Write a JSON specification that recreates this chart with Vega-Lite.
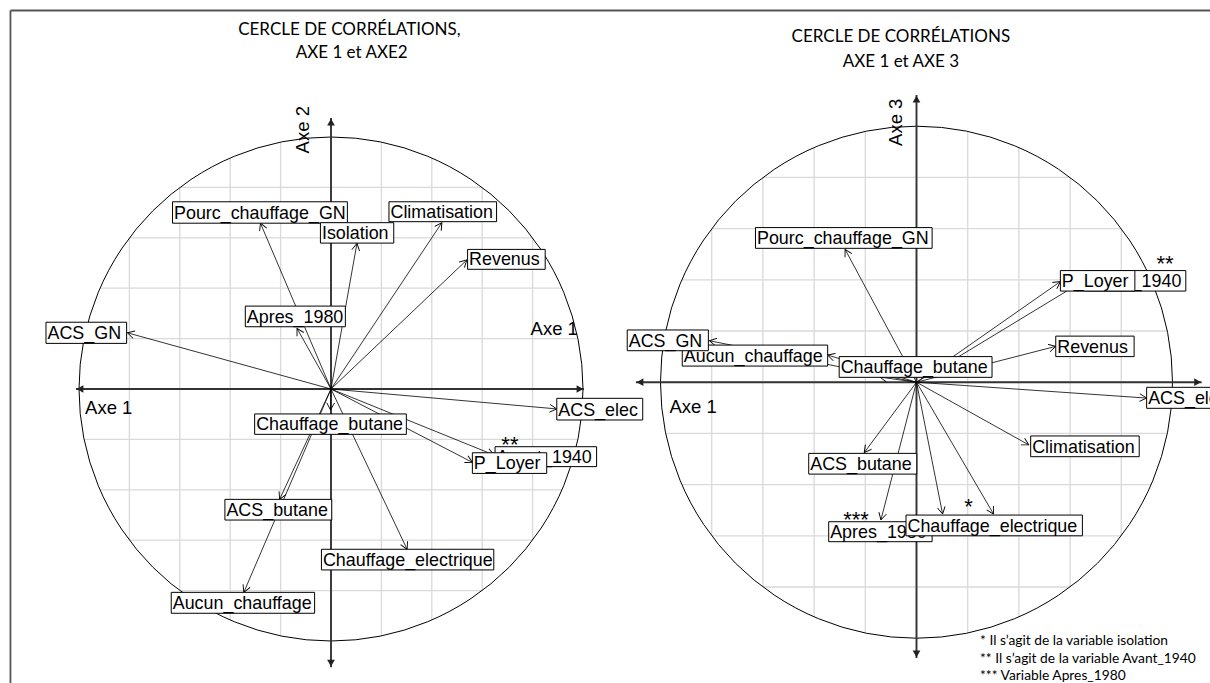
{
  "$schema": "https://vega.github.io/schema/vega-lite/v6.json",
  "padding": 0,
  "background": "white",
  "bounds": "flush",
  "spacing": 0,
  "config": {"view": {"stroke": null}},
  "datasets": {
    "grid": [
      {"g": -0.8, "lo": -0.6, "hi": 0.6},
      {"g": -0.6, "lo": -0.8, "hi": 0.8},
      {"g": -0.4, "lo": -0.9165, "hi": 0.9165},
      {"g": -0.2, "lo": -0.9798, "hi": 0.9798},
      {"g": 0, "lo": -1, "hi": 1},
      {"g": 0.2, "lo": -0.9798, "hi": 0.9798},
      {"g": 0.4, "lo": -0.9165, "hi": 0.9165},
      {"g": 0.6, "lo": -0.8, "hi": 0.8},
      {"g": 0.8, "lo": -0.6, "hi": 0.6}
    ],
    "p1lab": [
      {"var": "Pourc_chauffage_GN", "ax": -0.280, "ay": 0.658, "x1": -0.629, "x2": 0.065, "y1": 0.658, "y2": 0.743},
      {"var": "Climatisation", "ax": 0.440, "ay": 0.660, "x1": 0.230, "x2": 0.657, "y1": 0.664, "y2": 0.743},
      {"var": "Isolation", "ax": 0.103, "ay": 0.578, "x1": -0.042, "x2": 0.249, "y1": 0.579, "y2": 0.660},
      {"var": "Revenus", "ax": 0.539, "ay": 0.512, "x1": 0.542, "x2": 0.850, "y1": 0.475, "y2": 0.554},
      {"var": "Apres_1980", "ax": -0.135, "ay": 0.241, "x1": -0.340, "x2": 0.057, "y1": 0.247, "y2": 0.329},
      {"var": "ACS_GN", "ax": -0.808, "ay": 0.223, "x1": -1.131, "x2": -0.811, "y1": 0.181, "y2": 0.265},
      {"var": "ACS_elec", "ax": 0.896, "ay": -0.079, "x1": 0.896, "x2": 1.237, "y1": -0.123, "y2": -0.037},
      {"var": "Avant_1940", "ax": 0.647, "ay": -0.262, "x1": 0.651, "x2": 1.054, "y1": -0.308, "y2": -0.229},
      {"var": "Chauffage_butane", "ax": -0.002, "ay": -0.083, "x1": -0.303, "x2": 0.299, "y1": -0.180, "y2": -0.099},
      {"var": "P_Loyer", "ax": 0.561, "ay": -0.291, "x1": 0.561, "x2": 0.856, "y1": -0.335, "y2": -0.253},
      {"var": "ACS_butane", "ax": -0.204, "ay": -0.438, "x1": -0.421, "x2": 0.003, "y1": -0.520, "y2": -0.438},
      {"var": "Aucun_chauffage", "ax": -0.346, "ay": -0.807, "x1": -0.634, "x2": -0.065, "y1": -0.890, "y2": -0.807},
      {"var": "Chauffage_electrique", "ax": 0.302, "ay": -0.636, "x1": -0.038, "x2": 0.646, "y1": -0.718, "y2": -0.636}
    ],
    "p2lab": [
      {"var": "Pourc_chauffage_GN", "ax": -0.279, "ay": 0.519, "x1": -0.629, "x2": 0.061, "y1": 0.523, "y2": 0.604},
      {"var": "Avant_1940", "ax": 0.658, "ay": 0.399, "x1": 0.657, "x2": 1.052, "y1": 0.356, "y2": 0.436},
      {"var": "P_Loyer", "ax": 0.562, "ay": 0.393, "x1": 0.562, "x2": 0.853, "y1": 0.356, "y2": 0.436},
      {"var": "Revenus", "ax": 0.544, "ay": 0.140, "x1": 0.544, "x2": 0.850, "y1": 0.100, "y2": 0.180},
      {"var": "Aucun_chauffage", "ax": -0.347, "ay": 0.106, "x1": -0.915, "x2": -0.347, "y1": 0.063, "y2": 0.145},
      {"var": "ACS_GN", "ax": -0.809, "ay": 0.162, "x1": -1.130, "x2": -0.813, "y1": 0.123, "y2": 0.204},
      {"var": "Chauffage_butane", "ax": -0.143, "ay": 0.020, "x1": -0.302, "x2": 0.295, "y1": 0.019, "y2": 0.100},
      {"var": "ACS_elec", "ax": 0.899, "ay": -0.062, "x1": 0.899, "x2": 1.235, "y1": -0.102, "y2": -0.020},
      {"var": "Climatisation", "ax": 0.439, "ay": -0.245, "x1": 0.446, "x2": 0.870, "y1": -0.291, "y2": -0.210},
      {"var": "ACS_butane", "ax": -0.204, "ay": -0.275, "x1": -0.421, "x2": 0.001, "y1": -0.359, "y2": -0.278},
      {"var": "Apres_1980", "ax": -0.139, "ay": -0.538, "x1": -0.343, "x2": 0.061, "y1": -0.623, "y2": -0.545},
      {"var": "Isolation", "ax": 0.301, "ay": -0.515, "x1": null, "x2": null, "y1": null, "y2": null},
      {"var": "Chauffage_electrique", "ax": 0.102, "ay": -0.515, "x1": -0.041, "x2": 0.648, "y1": -0.600, "y2": -0.519}
    ],
    "p1axes": [
      {"x1": -1.012, "y1": 0, "x2": 1.004, "y2": 0},
      {"x1": 0, "y1": -1.104, "x2": 0, "y2": 1.075}
    ],
    "p1heads": [
      {"hx": -0.996, "hy": 0, "dir": "left"},
      {"hx": 0.988, "hy": 0, "dir": "right"},
      {"hx": 0, "hy": 1.059, "dir": "up"},
      {"hx": 0, "hy": -1.088, "dir": "down"}
    ],
    "p2axes": [
      {"x1": -1.096, "y1": 0, "x2": 1.114, "y2": 0},
      {"x1": 0, "y1": -1.077, "x2": 0, "y2": 1.122}
    ],
    "p2heads": [
      {"hx": -1.080, "hy": 0, "dir": "left"},
      {"hx": 1.098, "hy": 0, "dir": "right"},
      {"hx": 0, "hy": 1.106, "dir": "up"},
      {"hx": 0, "hy": -1.061, "dir": "down"}
    ],
    "p1frame": [
      {"x1": -1.272, "y1": 1.502, "x2": 1.0873, "y2": 1.502},
      {"x1": -1.272, "y1": 1.502, "x2": -1.272, "y2": -1.1667}
    ],
    "p2frame": [
      {"x1": -1.2168, "y1": 1.452, "x2": 1.1465, "y2": 1.452}
    ],
    "p1titles": [
      {"t": "CERCLE DE CORRÉLATIONS,", "x": 0.073, "y": 1.405},
      {"t": "AXE 1 et AXE2", "x": 0.082, "y": 1.312}
    ],
    "p2titles": [
      {"t": "CERCLE DE CORRÉLATIONS", "x": -0.061, "y": 1.330},
      {"t": "AXE 1 et AXE 3", "x": -0.061, "y": 1.232}
    ],
    "p1axelab": [
      {"t": "Axe 1", "x": -0.976, "y": -0.099},
      {"t": "Axe 1", "x": 0.792, "y": 0.214}
    ],
    "p1axev": [{"t": "Axe 2", "x": -0.087, "y": 0.935}],
    "p2axelab": [{"t": "Axe 1", "x": -0.965, "y": -0.121}],
    "p2axev": [{"t": "Axe 3", "x": -0.056, "y": 0.923}],
    "p1stars": [{"t": "**", "x": 0.710, "y": -0.251}],
    "p2stars": [
      {"t": "**", "x": 0.971, "y": 0.436},
      {"t": "*", "x": 0.203, "y": -0.515},
      {"t": "***", "x": -0.236, "y": -0.567}
    ],
    "notes": [
      {"t": "* Il s’agit de la variable isolation", "x": 0.248, "y": -1.027},
      {"t": "** Il s’agit de la variable Avant_1940", "x": 0.248, "y": -1.097},
      {"t": "*** Variable Apres_1980", "x": 0.248, "y": -1.165}
    ],
    "origin": [{"c": 0}]
  },
  "hconcat": [
    {
      "width": 605,
      "height": 683,
      "layer": [
        {"data": {"name": "grid"}, "mark": {"type": "rule", "color": "#d9d9d9", "strokeWidth": 1.3},
         "encoding": {
           "x": {"field": "g", "type": "quantitative", "scale": {"domain": [-1.3135, 1.0873], "nice": false, "zero": false}, "axis": null},
           "y": {"field": "lo", "type": "quantitative", "scale": {"domain": [-1.1667, 1.5437], "nice": false, "zero": false}, "axis": null},
           "y2": {"field": "hi"}}},
        {"data": {"name": "grid"}, "mark": {"type": "rule", "color": "#d9d9d9", "strokeWidth": 1.3},
         "encoding": {
           "y": {"field": "g", "type": "quantitative", "scale": {"domain": [-1.1667, 1.5437], "nice": false, "zero": false}, "axis": null},
           "x": {"field": "lo", "type": "quantitative", "scale": {"domain": [-1.3135, 1.0873], "nice": false, "zero": false}, "axis": null},
           "x2": {"field": "hi"}}},
        {"data": {"name": "origin"}, "mark": {"type": "point", "shape": "circle", "size": 254016, "filled": false, "color": "black", "strokeWidth": 1, "opacity": 1},
         "encoding": {
           "x": {"field": "c", "type": "quantitative", "scale": {"domain": [-1.3135, 1.0873], "nice": false, "zero": false}, "axis": null},
           "y": {"field": "c", "type": "quantitative", "scale": {"domain": [-1.1667, 1.5437], "nice": false, "zero": false}, "axis": null}}},
        {"data": {"name": "p1frame"}, "mark": {"type": "rule", "color": "#555555", "strokeWidth": 1.8},
         "encoding": {
           "x": {"field": "x1", "type": "quantitative", "scale": {"domain": [-1.3135, 1.0873], "nice": false, "zero": false}, "axis": null},
           "y": {"field": "y1", "type": "quantitative", "scale": {"domain": [-1.1667, 1.5437], "nice": false, "zero": false}, "axis": null},
           "x2": {"field": "x2"}, "y2": {"field": "y2"}}},
        {"data": {"name": "p1axes"}, "mark": {"type": "rule", "color": "#333333", "strokeWidth": 1.9},
         "encoding": {
           "x": {"field": "x1", "type": "quantitative", "scale": {"domain": [-1.3135, 1.0873], "nice": false, "zero": false}, "axis": null},
           "y": {"field": "y1", "type": "quantitative", "scale": {"domain": [-1.1667, 1.5437], "nice": false, "zero": false}, "axis": null},
           "x2": {"field": "x2"}, "y2": {"field": "y2"}}},
        {"data": {"name": "p1heads"}, "mark": {"type": "point", "filled": true, "color": "#222222", "size": 60, "opacity": 1},
         "encoding": {
           "x": {"field": "hx", "type": "quantitative", "scale": {"domain": [-1.3135, 1.0873], "nice": false, "zero": false}, "axis": null},
           "y": {"field": "hy", "type": "quantitative", "scale": {"domain": [-1.1667, 1.5437], "nice": false, "zero": false}, "axis": null},
           "shape": {"field": "dir", "type": "nominal", "scale": {"domain": ["left", "right", "up", "down"], "range": ["triangle-left", "triangle-right", "triangle-up", "triangle-down"]}, "legend": null}}},
        {"data": {"name": "p1lab"}, "mark": {"type": "rule", "color": "black", "strokeWidth": 0.8},
         "encoding": {
           "x": {"field": "ax", "type": "quantitative", "scale": {"domain": [-1.3135, 1.0873], "nice": false, "zero": false}, "axis": null},
           "y": {"field": "ay", "type": "quantitative", "scale": {"domain": [-1.1667, 1.5437], "nice": false, "zero": false}, "axis": null},
           "x2": {"datum": 0}, "y2": {"datum": 0}}},
        {"data": {"name": "p1lab"}, "mark": {"type": "point", "shape": "M0,0L-1,-0.55M0,0L-1,0.55", "size": 196, "filled": false, "color": "black", "strokeWidth": 0.9, "opacity": 1, "angle": {"expr": "atan2(-datum.ay, datum.ax) * 180 / PI"}},
         "encoding": {
           "x": {"field": "ax", "type": "quantitative", "scale": {"domain": [-1.3135, 1.0873], "nice": false, "zero": false}, "axis": null},
           "y": {"field": "ay", "type": "quantitative", "scale": {"domain": [-1.1667, 1.5437], "nice": false, "zero": false}, "axis": null}}},
        {"data": {"name": "p1lab"}, "transform": [{"filter": {"field": "var", "oneOf": ["Avant_1940"]}}],
         "mark": {"type": "rect", "fill": "white", "stroke": "black", "strokeWidth": 1},
         "encoding": {
           "x": {"field": "x1", "type": "quantitative", "scale": {"domain": [-1.3135, 1.0873], "nice": false, "zero": false}, "axis": null},
           "y": {"field": "y1", "type": "quantitative", "scale": {"domain": [-1.1667, 1.5437], "nice": false, "zero": false}, "axis": null},
           "x2": {"field": "x2"}, "y2": {"field": "y2"}}},
        {"data": {"name": "p1lab"}, "transform": [{"filter": {"field": "var", "oneOf": ["Avant_1940"]}}],
         "mark": {"type": "text", "align": "left", "baseline": "alphabetic", "dx": 1.5, "dy": -4, "font": "Liberation Sans", "fontSize": 17.9, "color": "black"},
         "encoding": {
           "x": {"field": "x1", "type": "quantitative", "scale": {"domain": [-1.3135, 1.0873], "nice": false, "zero": false}, "axis": null},
           "y": {"field": "y1", "type": "quantitative", "scale": {"domain": [-1.1667, 1.5437], "nice": false, "zero": false}, "axis": null},
           "text": {"field": "var"}}},
        {"data": {"name": "p1lab"}, "transform": [{"filter": {"not": {"field": "var", "oneOf": ["Avant_1940"]}}}],
         "mark": {"type": "rect", "fill": "white", "stroke": "black", "strokeWidth": 1},
         "encoding": {
           "x": {"field": "x1", "type": "quantitative", "scale": {"domain": [-1.3135, 1.0873], "nice": false, "zero": false}, "axis": null},
           "y": {"field": "y1", "type": "quantitative", "scale": {"domain": [-1.1667, 1.5437], "nice": false, "zero": false}, "axis": null},
           "x2": {"field": "x2"}, "y2": {"field": "y2"}}},
        {"data": {"name": "p1lab"}, "transform": [{"filter": {"not": {"field": "var", "oneOf": ["Avant_1940"]}}}],
         "mark": {"type": "text", "align": "left", "baseline": "alphabetic", "dx": 1.5, "dy": -4, "font": "Liberation Sans", "fontSize": 17.9, "color": "black"},
         "encoding": {
           "x": {"field": "x1", "type": "quantitative", "scale": {"domain": [-1.3135, 1.0873], "nice": false, "zero": false}, "axis": null},
           "y": {"field": "y1", "type": "quantitative", "scale": {"domain": [-1.1667, 1.5437], "nice": false, "zero": false}, "axis": null},
           "text": {"field": "var"}}},
        {"data": {"name": "p1stars"}, "mark": {"type": "text", "align": "center", "baseline": "alphabetic", "font": "Liberation Sans", "fontSize": 22, "color": "black"},
         "encoding": {
           "x": {"field": "x", "type": "quantitative", "scale": {"domain": [-1.3135, 1.0873], "nice": false, "zero": false}, "axis": null},
           "y": {"field": "y", "type": "quantitative", "scale": {"domain": [-1.1667, 1.5437], "nice": false, "zero": false}, "axis": null},
           "text": {"field": "t"}}},
        {"data": {"name": "p1axelab"}, "mark": {"type": "text", "align": "left", "baseline": "alphabetic", "font": "Liberation Sans", "fontSize": 18.5, "color": "black"},
         "encoding": {
           "x": {"field": "x", "type": "quantitative", "scale": {"domain": [-1.3135, 1.0873], "nice": false, "zero": false}, "axis": null},
           "y": {"field": "y", "type": "quantitative", "scale": {"domain": [-1.1667, 1.5437], "nice": false, "zero": false}, "axis": null},
           "text": {"field": "t"}}},
        {"data": {"name": "p1axev"}, "mark": {"type": "text", "align": "left", "baseline": "alphabetic", "angle": 270, "font": "Liberation Sans", "fontSize": 18.5, "color": "black"},
         "encoding": {
           "x": {"field": "x", "type": "quantitative", "scale": {"domain": [-1.3135, 1.0873], "nice": false, "zero": false}, "axis": null},
           "y": {"field": "y", "type": "quantitative", "scale": {"domain": [-1.1667, 1.5437], "nice": false, "zero": false}, "axis": null},
           "text": {"field": "t"}}},
        {"data": {"name": "p1titles"}, "mark": {"type": "text", "align": "center", "baseline": "alphabetic", "font": "Lato", "fontSize": 17, "color": "black"},
         "encoding": {
           "x": {"field": "x", "type": "quantitative", "scale": {"domain": [-1.3135, 1.0873], "nice": false, "zero": false}, "axis": null},
           "y": {"field": "y", "type": "quantitative", "scale": {"domain": [-1.1667, 1.5437], "nice": false, "zero": false}, "axis": null},
           "text": {"field": "t"}}}
      ]
    },
    {
      "width": 605,
      "height": 683,
      "layer": [
        {"data": {"name": "grid"}, "mark": {"type": "rule", "color": "#d9d9d9", "strokeWidth": 1.3},
         "encoding": {
           "x": {"field": "g", "type": "quantitative", "scale": {"domain": [-1.2168, 1.1465], "nice": false, "zero": false}, "axis": null},
           "y": {"field": "lo", "type": "quantitative", "scale": {"domain": [-1.175, 1.493], "nice": false, "zero": false}, "axis": null},
           "y2": {"field": "hi"}}},
        {"data": {"name": "grid"}, "mark": {"type": "rule", "color": "#d9d9d9", "strokeWidth": 1.3},
         "encoding": {
           "y": {"field": "g", "type": "quantitative", "scale": {"domain": [-1.175, 1.493], "nice": false, "zero": false}, "axis": null},
           "x": {"field": "lo", "type": "quantitative", "scale": {"domain": [-1.2168, 1.1465], "nice": false, "zero": false}, "axis": null},
           "x2": {"field": "hi"}}},
        {"data": {"name": "origin"}, "mark": {"type": "point", "shape": "circle", "size": 262144, "filled": false, "color": "black", "strokeWidth": 1, "opacity": 1},
         "encoding": {
           "x": {"field": "c", "type": "quantitative", "scale": {"domain": [-1.2168, 1.1465], "nice": false, "zero": false}, "axis": null},
           "y": {"field": "c", "type": "quantitative", "scale": {"domain": [-1.175, 1.493], "nice": false, "zero": false}, "axis": null}}},
        {"data": {"name": "p2frame"}, "mark": {"type": "rule", "color": "#555555", "strokeWidth": 1.8},
         "encoding": {
           "x": {"field": "x1", "type": "quantitative", "scale": {"domain": [-1.2168, 1.1465], "nice": false, "zero": false}, "axis": null},
           "y": {"field": "y1", "type": "quantitative", "scale": {"domain": [-1.175, 1.493], "nice": false, "zero": false}, "axis": null},
           "x2": {"field": "x2"}, "y2": {"field": "y2"}}},
        {"data": {"name": "p2axes"}, "mark": {"type": "rule", "color": "#333333", "strokeWidth": 1.9},
         "encoding": {
           "x": {"field": "x1", "type": "quantitative", "scale": {"domain": [-1.2168, 1.1465], "nice": false, "zero": false}, "axis": null},
           "y": {"field": "y1", "type": "quantitative", "scale": {"domain": [-1.175, 1.493], "nice": false, "zero": false}, "axis": null},
           "x2": {"field": "x2"}, "y2": {"field": "y2"}}},
        {"data": {"name": "p2heads"}, "mark": {"type": "point", "filled": true, "color": "#222222", "size": 60, "opacity": 1},
         "encoding": {
           "x": {"field": "hx", "type": "quantitative", "scale": {"domain": [-1.2168, 1.1465], "nice": false, "zero": false}, "axis": null},
           "y": {"field": "hy", "type": "quantitative", "scale": {"domain": [-1.175, 1.493], "nice": false, "zero": false}, "axis": null},
           "shape": {"field": "dir", "type": "nominal", "scale": {"domain": ["left", "right", "up", "down"], "range": ["triangle-left", "triangle-right", "triangle-up", "triangle-down"]}, "legend": null}}},
        {"data": {"name": "p2lab"}, "mark": {"type": "rule", "color": "black", "strokeWidth": 0.8},
         "encoding": {
           "x": {"field": "ax", "type": "quantitative", "scale": {"domain": [-1.2168, 1.1465], "nice": false, "zero": false}, "axis": null},
           "y": {"field": "ay", "type": "quantitative", "scale": {"domain": [-1.175, 1.493], "nice": false, "zero": false}, "axis": null},
           "x2": {"datum": 0}, "y2": {"datum": 0}}},
        {"data": {"name": "p2lab"}, "mark": {"type": "point", "shape": "M0,0L-1,-0.55M0,0L-1,0.55", "size": 196, "filled": false, "color": "black", "strokeWidth": 0.9, "opacity": 1, "angle": {"expr": "atan2(-datum.ay, datum.ax) * 180 / PI"}},
         "encoding": {
           "x": {"field": "ax", "type": "quantitative", "scale": {"domain": [-1.2168, 1.1465], "nice": false, "zero": false}, "axis": null},
           "y": {"field": "ay", "type": "quantitative", "scale": {"domain": [-1.175, 1.493], "nice": false, "zero": false}, "axis": null}}},
        {"data": {"name": "p2lab"}, "transform": [{"filter": {"field": "var", "oneOf": ["Avant_1940", "Aucun_chauffage", "Apres_1980"]}}],
         "mark": {"type": "rect", "fill": "white", "stroke": "black", "strokeWidth": 1},
         "encoding": {
           "x": {"field": "x1", "type": "quantitative", "scale": {"domain": [-1.2168, 1.1465], "nice": false, "zero": false}, "axis": null},
           "y": {"field": "y1", "type": "quantitative", "scale": {"domain": [-1.175, 1.493], "nice": false, "zero": false}, "axis": null},
           "x2": {"field": "x2"}, "y2": {"field": "y2"}}},
        {"data": {"name": "p2lab"}, "transform": [{"filter": {"field": "var", "oneOf": ["Avant_1940", "Aucun_chauffage", "Apres_1980"]}}],
         "mark": {"type": "text", "align": "left", "baseline": "alphabetic", "dx": 1.5, "dy": -4, "font": "Liberation Sans", "fontSize": 17.9, "color": "black"},
         "encoding": {
           "x": {"field": "x1", "type": "quantitative", "scale": {"domain": [-1.2168, 1.1465], "nice": false, "zero": false}, "axis": null},
           "y": {"field": "y1", "type": "quantitative", "scale": {"domain": [-1.175, 1.493], "nice": false, "zero": false}, "axis": null},
           "text": {"field": "var"}}},
        {"data": {"name": "p2lab"}, "transform": [{"filter": {"not": {"field": "var", "oneOf": ["Avant_1940", "Aucun_chauffage", "Apres_1980"]}}}],
         "mark": {"type": "rect", "fill": "white", "stroke": "black", "strokeWidth": 1, "clip": true},
         "encoding": {
           "x": {"field": "x1", "type": "quantitative", "scale": {"domain": [-1.2168, 1.1465], "nice": false, "zero": false}, "axis": null},
           "y": {"field": "y1", "type": "quantitative", "scale": {"domain": [-1.175, 1.493], "nice": false, "zero": false}, "axis": null},
           "x2": {"field": "x2"}, "y2": {"field": "y2"}}},
        {"data": {"name": "p2lab"}, "transform": [{"filter": {"not": {"field": "var", "oneOf": ["Avant_1940", "Aucun_chauffage", "Apres_1980"]}}}],
         "mark": {"type": "text", "align": "left", "baseline": "alphabetic", "dx": 1.5, "dy": -4, "font": "Liberation Sans", "fontSize": 17.9, "color": "black", "clip": true},
         "encoding": {
           "x": {"field": "x1", "type": "quantitative", "scale": {"domain": [-1.2168, 1.1465], "nice": false, "zero": false}, "axis": null},
           "y": {"field": "y1", "type": "quantitative", "scale": {"domain": [-1.175, 1.493], "nice": false, "zero": false}, "axis": null},
           "text": {"field": "var"}}},
        {"data": {"name": "p2stars"}, "mark": {"type": "text", "align": "center", "baseline": "alphabetic", "font": "Liberation Sans", "fontSize": 22, "color": "black"},
         "encoding": {
           "x": {"field": "x", "type": "quantitative", "scale": {"domain": [-1.2168, 1.1465], "nice": false, "zero": false}, "axis": null},
           "y": {"field": "y", "type": "quantitative", "scale": {"domain": [-1.175, 1.493], "nice": false, "zero": false}, "axis": null},
           "text": {"field": "t"}}},
        {"data": {"name": "p2axelab"}, "mark": {"type": "text", "align": "left", "baseline": "alphabetic", "font": "Liberation Sans", "fontSize": 18.5, "color": "black"},
         "encoding": {
           "x": {"field": "x", "type": "quantitative", "scale": {"domain": [-1.2168, 1.1465], "nice": false, "zero": false}, "axis": null},
           "y": {"field": "y", "type": "quantitative", "scale": {"domain": [-1.175, 1.493], "nice": false, "zero": false}, "axis": null},
           "text": {"field": "t"}}},
        {"data": {"name": "p2axev"}, "mark": {"type": "text", "align": "left", "baseline": "alphabetic", "angle": 270, "font": "Liberation Sans", "fontSize": 18.5, "color": "black"},
         "encoding": {
           "x": {"field": "x", "type": "quantitative", "scale": {"domain": [-1.2168, 1.1465], "nice": false, "zero": false}, "axis": null},
           "y": {"field": "y", "type": "quantitative", "scale": {"domain": [-1.175, 1.493], "nice": false, "zero": false}, "axis": null},
           "text": {"field": "t"}}},
        {"data": {"name": "p2titles"}, "mark": {"type": "text", "align": "center", "baseline": "alphabetic", "font": "Lato", "fontSize": 17, "color": "black"},
         "encoding": {
           "x": {"field": "x", "type": "quantitative", "scale": {"domain": [-1.2168, 1.1465], "nice": false, "zero": false}, "axis": null},
           "y": {"field": "y", "type": "quantitative", "scale": {"domain": [-1.175, 1.493], "nice": false, "zero": false}, "axis": null},
           "text": {"field": "t"}}},
        {"data": {"name": "notes"}, "mark": {"type": "text", "align": "left", "baseline": "alphabetic", "font": "Lato", "fontSize": 13.8, "color": "black"},
         "encoding": {
           "x": {"field": "x", "type": "quantitative", "scale": {"domain": [-1.2168, 1.1465], "nice": false, "zero": false}, "axis": null},
           "y": {"field": "y", "type": "quantitative", "scale": {"domain": [-1.175, 1.493], "nice": false, "zero": false}, "axis": null},
           "text": {"field": "t"}}}
      ]
    }
  ]
}
